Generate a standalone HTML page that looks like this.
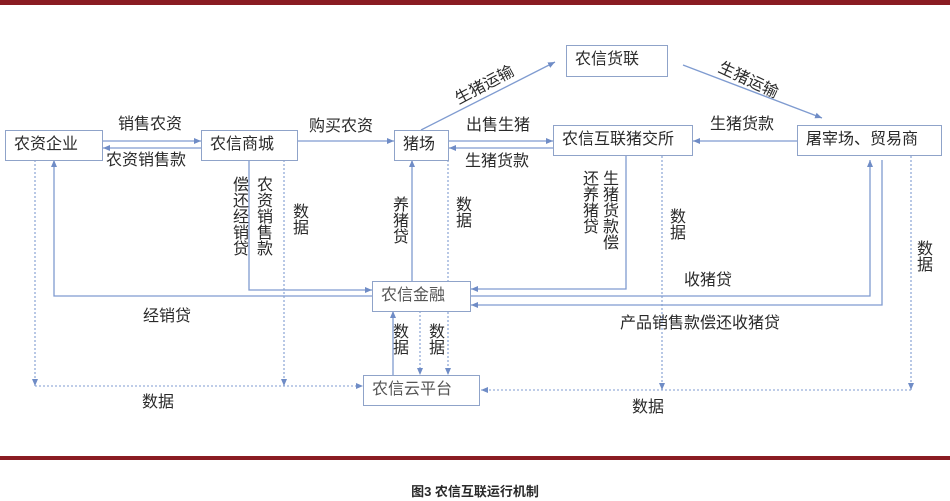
<!DOCTYPE html>
<html><head><meta charset="utf-8"><style>
body{margin:0;width:950px;height:500px;background:#fff;position:relative;overflow:hidden;font-family:"Liberation Sans","Noto Sans CJK SC",sans-serif;color:#2a2a2a}
.b{position:absolute;border:1.5px solid #8fa3c9;background:#fff;font-size:16px;line-height:28px;padding-left:8px;box-sizing:border-box;height:31px}
.t{position:absolute;font-size:16px;white-space:nowrap;line-height:18px}
.v{position:absolute;font-size:16px;writing-mode:vertical-rl;line-height:18px}
</style></head><body>
<div style="position:absolute;left:0;top:0;width:950px;height:5px;background:#8a1c22"></div>
<div style="position:absolute;left:0;top:456px;width:950px;height:4px;background:#8a1c22"></div>
<div class="t" style="left:0;width:950px;text-align:center;top:483px;font-size:13px;font-weight:bold">图3 农信互联运行机制</div>
<svg width="950" height="500" style="position:absolute;left:0;top:0">
<defs><marker id="a" markerWidth="8" markerHeight="8" refX="7" refY="4" orient="auto" markerUnits="userSpaceOnUse"><path d="M0,1 L7,4 L0,7z" fill="#6f8cc6"/></marker></defs>
<g stroke="#7f9bd0" stroke-width="1.3" fill="none" marker-end="url(#a)">
<line x1="103" y1="141" x2="201" y2="141"/>
<line x1="201" y1="148" x2="103" y2="148"/>
<line x1="298" y1="141" x2="394" y2="141"/>
<line x1="421" y1="130" x2="555" y2="62"/>
<line x1="683" y1="65" x2="822" y2="118"/>
<line x1="449" y1="141" x2="553" y2="141"/>
<line x1="553" y1="148" x2="449" y2="148"/>
<line x1="797" y1="141" x2="693" y2="141"/>
<polyline points="372,296 54,296 54,160"/>
<polyline points="249,160 249,290 372,290"/>
<line x1="412" y1="281" x2="412" y2="160"/>
<polyline points="626,156 626,289 471,289"/>
<polyline points="471,296 870,296 870,160"/>
<polyline points="882,160 882,305 471,305"/>
<line x1="393" y1="375" x2="393" y2="311"/>
</g>
<g stroke="#7f9bd0" stroke-width="1.1" fill="none" stroke-dasharray="2,2" marker-end="url(#a)">
<line x1="448" y1="160" x2="448" y2="375"/>
<line x1="420" y1="311" x2="420" y2="375"/>
<line x1="35" y1="160" x2="35" y2="386"/>
<line x1="35" y1="386" x2="363" y2="386"/>
<line x1="284" y1="160" x2="284" y2="386"/>
<line x1="662" y1="156" x2="662" y2="390"/>
<line x1="911" y1="156" x2="911" y2="390"/>
<line x1="911" y1="390" x2="481" y2="390"/>
</g>
</svg>
<div class="b" style="left:5px;top:130px;width:98px">农资企业</div>
<div class="b" style="left:201px;top:130px;width:97px">农信商城</div>
<div class="b" style="left:394px;top:130px;width:55px">猪场</div>
<div class="b" style="left:566px;top:45px;width:102px;height:32px">农信货联</div>
<div class="b" style="left:553px;top:125px;width:140px">农信互联猪交所</div>
<div class="b" style="left:797px;top:125px;width:145px">屠宰场、贸易商</div>
<div class="b" style="left:372px;top:281px;width:99px;color:#555">农信金融</div>
<div class="b" style="left:363px;top:375px;width:117px;color:#555">农信云平台</div>
<div class="t" style="left:118px;top:116px">销售农资</div>
<div class="t" style="left:106px;top:152px">农资销售款</div>
<div class="t" style="left:309px;top:118px">购买农资</div>
<div class="t" style="left:466px;top:117px">出售生猪</div>
<div class="t" style="left:465px;top:153px">生猪货款</div>
<div class="t" style="left:710px;top:116px">生猪货款</div>
<div class="t" style="left:453px;top:77px;transform:rotate(-28deg)">生猪运输</div>
<div class="t" style="left:716px;top:72px;transform:rotate(25deg)">生猪运输</div>
<div class="t" style="left:684px;top:272px">收猪贷</div>
<div class="t" style="left:620px;top:315px">产品销售款偿还收猪贷</div>
<div class="t" style="left:143px;top:308px">经销贷</div>
<div class="t" style="left:142px;top:394px">数据</div>
<div class="t" style="left:632px;top:399px">数据</div>
<div class="v" style="left:253px;top:176px">农资销售款</div>
<div class="v" style="left:229px;top:176px">偿还经销贷</div>
<div class="v" style="left:289px;top:203px">数据</div>
<div class="v" style="left:389px;top:196px">养猪贷</div>
<div class="v" style="left:452px;top:196px">数据</div>
<div class="v" style="left:599px;top:170px">生猪货款偿</div>
<div class="v" style="left:579px;top:170px">还养猪贷</div>
<div class="v" style="left:666px;top:208px">数据</div>
<div class="v" style="left:913px;top:240px">数据</div>
<div class="v" style="left:389px;top:323px">数据</div>
<div class="v" style="left:425px;top:323px">数据</div>
</body></html>
